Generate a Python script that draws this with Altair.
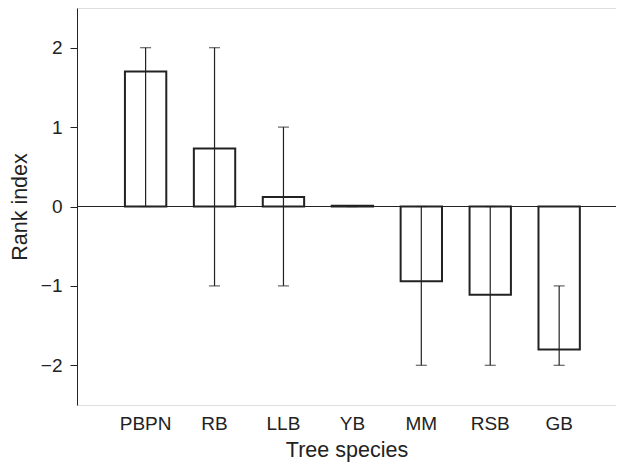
import altair as alt
import pandas as pd

species = ["PBPN", "RB", "LLB", "YB", "MM", "RSB", "GB"]
rank_index = [1.70, 0.73, 0.12, 0.01, -0.94, -1.11, -1.80]
err_low = [0, -1, -1, 0, -2, -2, -2]
err_high = [2, 2, 1, 0, 0, 0, -1]
y_ticks = [-2, -1, 0, 1, 2]

df = pd.DataFrame({
    "species": species,
    "rank": rank_index,
    "lo": err_low,
    "hi": err_high,
})

FONT = "Liberation Sans"
INK = "#222222"

xscale = alt.Scale(domain=species, paddingInner=0.4, paddingOuter=0.61, align=0.57)
yscale = alt.Scale(domain=[-2.5, 2.5], nice=False, zero=False)

x_enc = alt.X(
    "species:N", scale=xscale, sort=species, title="Tree species",
    axis=alt.Axis(domain=False, ticks=False, labelAngle=0, labelPadding=9,
                  labelFontSize=19, titleFontSize=21.5, titlePadding=6,
                  labelFont=FONT, titleFont=FONT, labelColor=INK, titleColor=INK,
                  titleFontWeight="normal"),
)
y_axis = alt.Axis(values=y_ticks, grid=False, tickSize=7, labelPadding=8,
                  labelFontSize=19, titleFontSize=21.5, titlePadding=9,
                  labelFont=FONT, titleFont=FONT, labelColor=INK, titleColor=INK,
                  domainColor=INK, tickColor=INK, titleFontWeight="normal", format="d")

base = alt.Chart(df)

zero = base.mark_rule(color=INK, strokeWidth=1.2).encode(y=alt.datum(0, scale=yscale))

bars = base.mark_bar(fill="white", stroke=INK, strokeWidth=2).encode(
    x=x_enc,
    y=alt.Y("rank:Q", scale=yscale, axis=y_axis, title="Rank index"),
    y2=alt.datum(0),
)

err = base.mark_rule(color=INK, strokeWidth=1.2).encode(
    x=alt.X("species:N", scale=xscale, sort=species),
    y=alt.Y("lo:Q", scale=yscale),
    y2="hi:Q",
)

cap_lo = base.mark_tick(color=INK, thickness=1.2, size=11, orient="horizontal").encode(
    x=alt.X("species:N", scale=xscale, sort=species),
    y=alt.Y("lo:Q", scale=yscale),
)
cap_hi = base.mark_tick(color=INK, thickness=1.2, size=11, orient="horizontal").encode(
    x=alt.X("species:N", scale=xscale, sort=species),
    y=alt.Y("hi:Q", scale=yscale),
)

chart = alt.layer(zero, bars, err, cap_lo, cap_hi).properties(
    width=539, height=397,
    autosize=alt.AutoSizeParams(type="none"),
    padding={"left": 69, "top": 0, "right": 0, "bottom": 59},
).configure_view(strokeWidth=0).configure(background="white")

chart.save("out.html", embed_options={"renderer": "svg", "actions": False})
